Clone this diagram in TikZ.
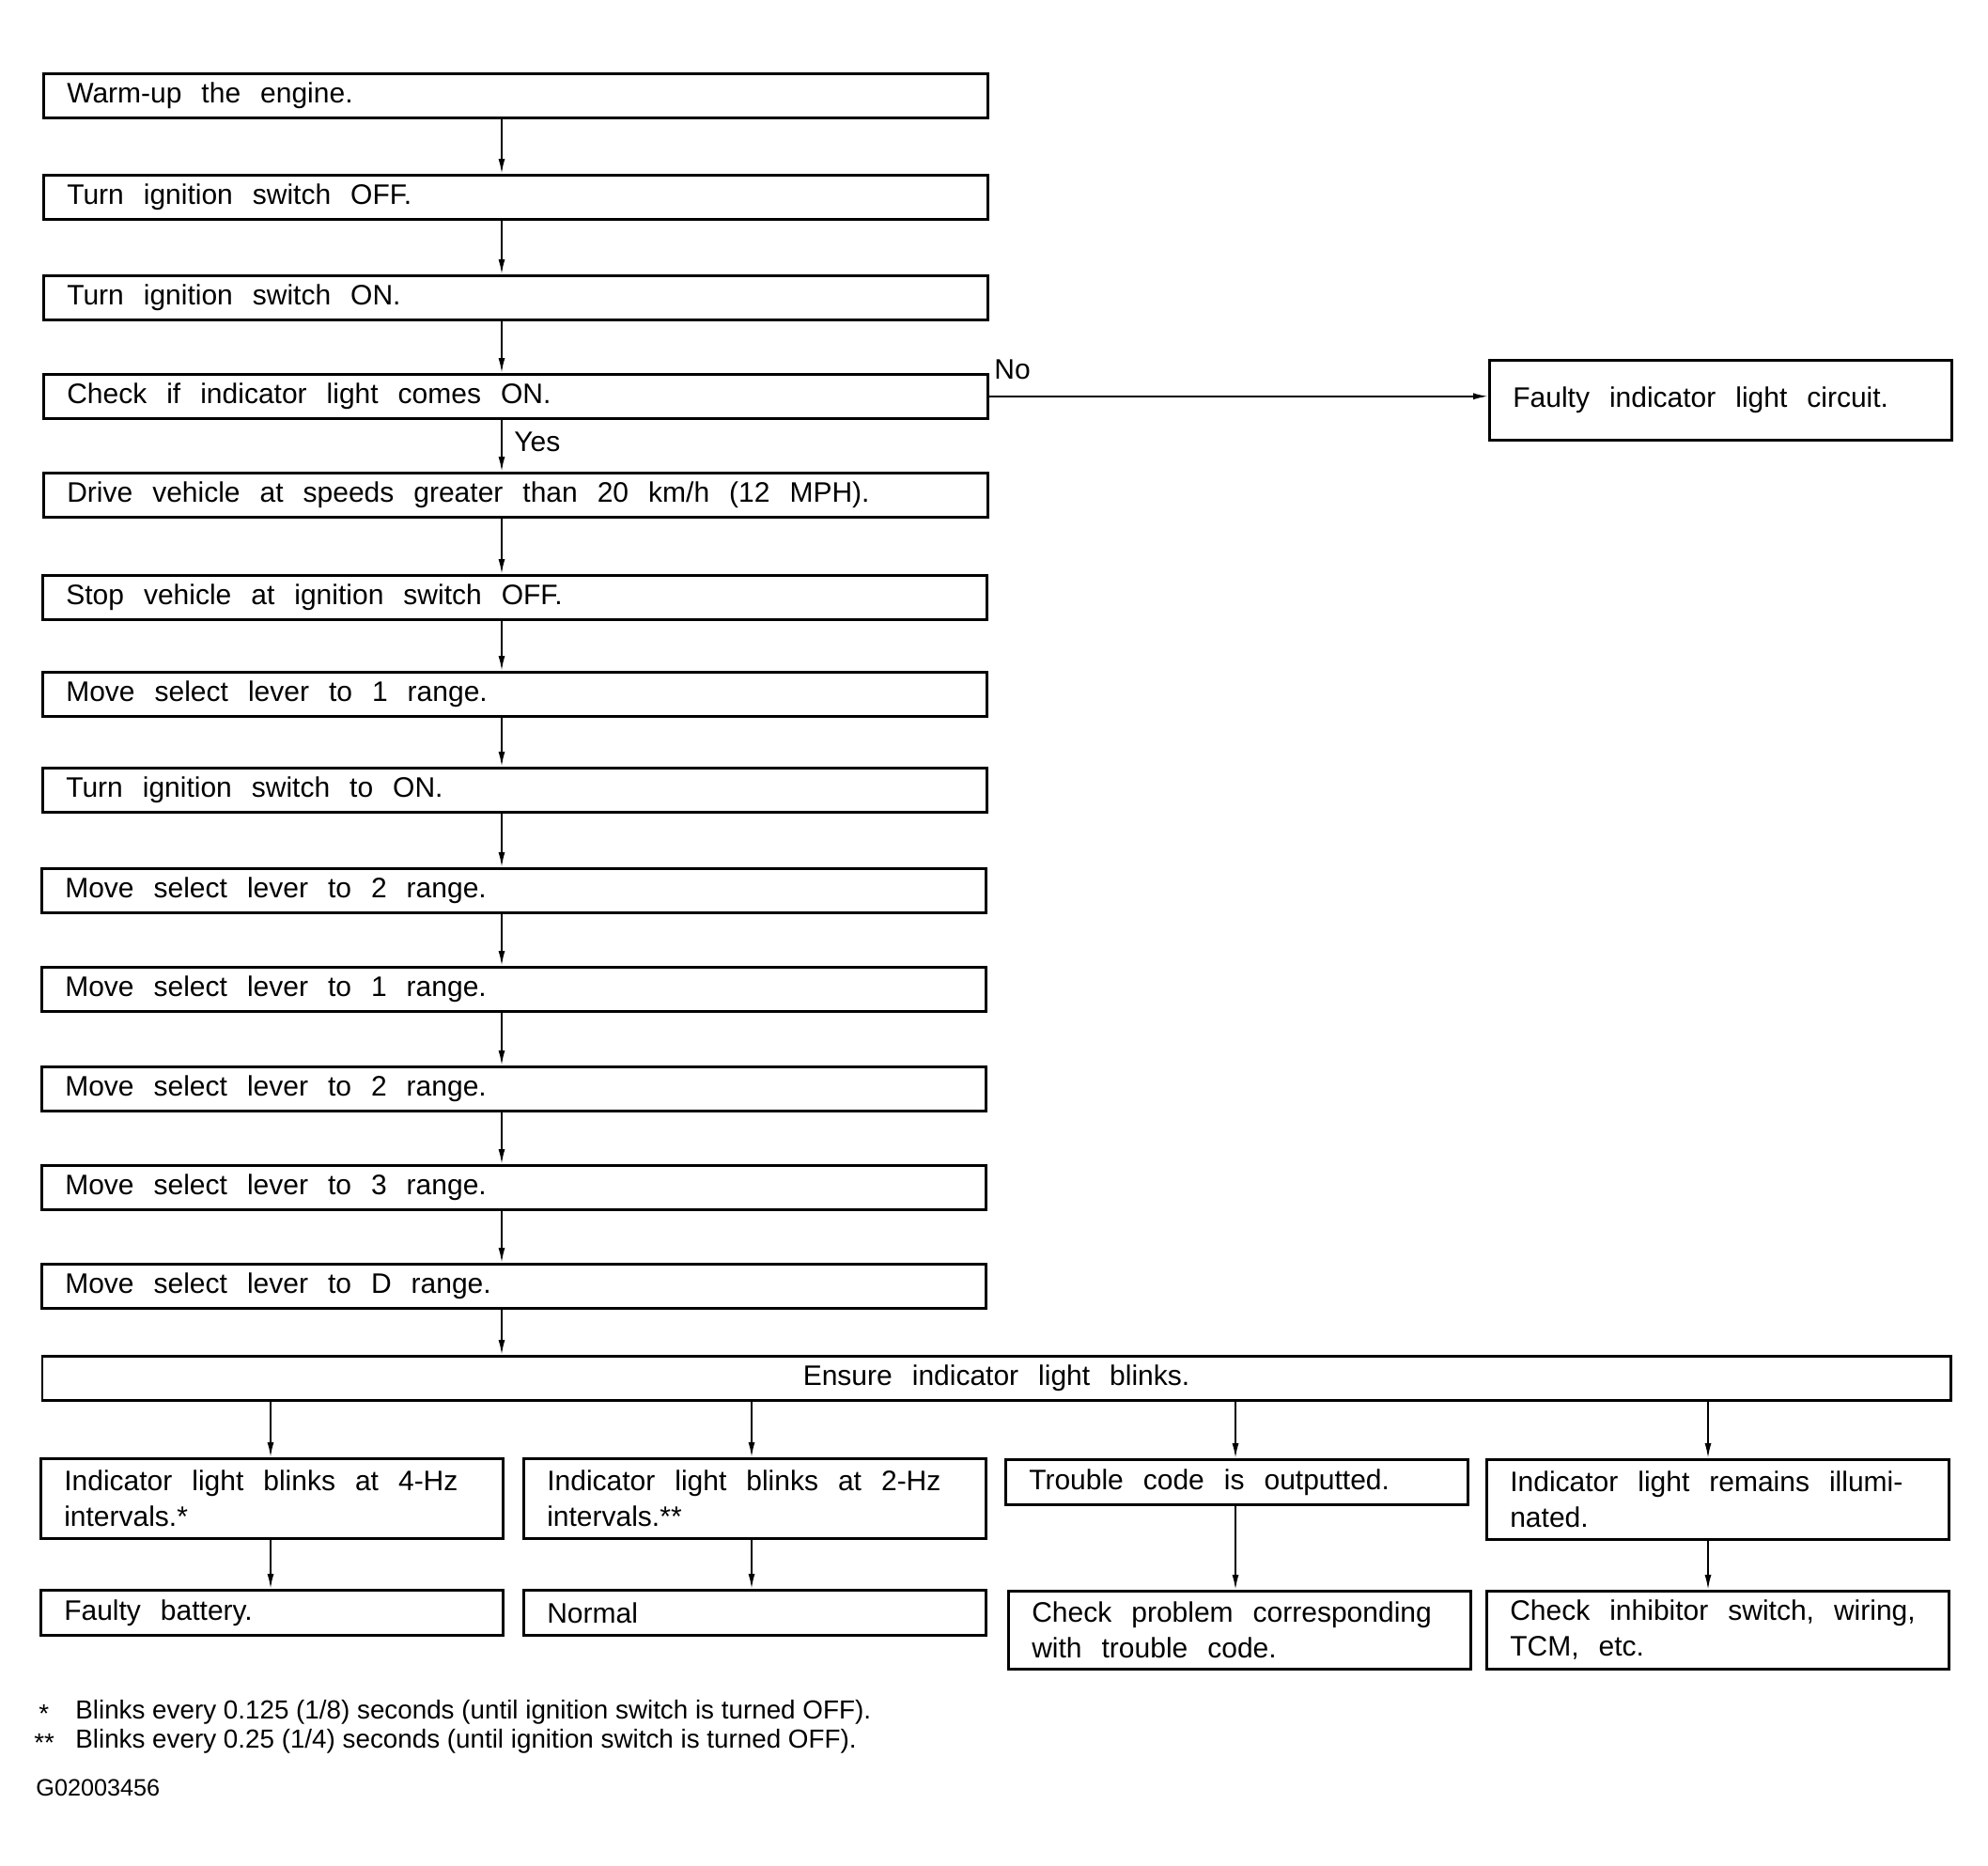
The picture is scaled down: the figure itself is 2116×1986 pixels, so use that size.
\documentclass[tikz,border=0pt]{standalone}
\usepackage{fontspec}
\setmainfont{Liberation Sans}
\newcommand\wsp{\spaceskip=10.5pt\relax\xspaceskip=10.5pt\relax}
\usetikzlibrary{arrows.meta}
\begin{document}
\begin{tikzpicture}[x=0.5pt,y=-0.5pt,
  box/.style={draw, line width=1.3pt, anchor=north west, inner ysep=0pt, inner xsep=12.5pt,
    font=\fontsize{15pt}{19pt}\selectfont, align=left, execute at begin node=\wsp},
  mainbox/.style={box, text width=477.5pt, minimum height=23.5pt},
  smallbox/.style={box, text width=221pt, minimum height=#1},
  arr/.style={line width=0.9pt, -{Latex[length=8pt,width=3.5pt]}},
  lbl/.style={font=\fontsize{15pt}{19pt}\selectfont, anchor=west, inner sep=0pt},
  note/.style={font=\fontsize{13.9pt}{16pt}\selectfont, anchor=west, inner sep=0pt}]
\useasboundingbox (0,0) rectangle (2116,1986);

\node[mainbox] (b1) at (45,77) {Warm-up the engine.};
\node[mainbox] (b2) at (45,185) {Turn ignition switch OFF.};
\node[mainbox] (b3) at (45,292) {Turn ignition switch ON.};
\node[mainbox] (b4) at (45,397) {Check if indicator light comes ON.};
\node[mainbox] (b5) at (45,502) {Drive vehicle at speeds greater than 20 km/h (12 MPH).};
\node[mainbox] (b6) at (44,611) {Stop vehicle at ignition switch OFF.};
\node[mainbox] (b7) at (44,714) {Move select lever to 1 range.};
\node[mainbox] (b8) at (44,816) {Turn ignition switch to ON.};
\node[mainbox] (b9) at (43,923) {Move select lever to 2 range.};
\node[mainbox] (b10) at (43,1028) {Move select lever to 1 range.};
\node[mainbox] (b11) at (43,1134) {Move select lever to 2 range.};
\node[mainbox] (b12) at (43,1239) {Move select lever to 3 range.};
\node[mainbox] (b13) at (43,1344) {Move select lever to D range.};

\node[draw, line width=1.3pt, anchor=north west, inner sep=0pt, minimum width=1015.75pt, minimum height=23.5pt,
  font=\fontsize{15pt}{19pt}\selectfont, execute at begin node=\wsp] (ens) at (43.5,1442) {Ensure indicator light blinks.};

\node[smallbox=42.5pt] (fic) at (1584,382) {Faulty indicator light circuit.};

\node[smallbox=42.5pt] (ra) at (42,1551) {Indicator light blinks at 4-Hz\\intervals.*};
\node[smallbox=42.5pt] (rb) at (556,1551) {Indicator light blinks at 2-Hz\\intervals.**};
\node[smallbox=24pt] (rc) at (1069,1552) {Trouble code is outputted.};
\node[smallbox=42.5pt] (rd) at (1581,1552) {Indicator light remains illumi-\\nated.};

\node[smallbox=24pt] (sa) at (42,1691) {Faulty battery.};
\node[smallbox=24pt] (sb) at (556,1691) {Normal};
\node[smallbox=41.5pt] (sc) at (1072,1692) {Check problem corresponding\\with trouble code.};
\node[smallbox=41.5pt] (sd) at (1581,1692) {Check inhibitor switch, wiring,\\TCM, etc.};

\coordinate (cx) at (534,0);
\coordinate (ca) at (288,0);
\coordinate (cb) at (800,0);
\coordinate (cc) at (1315,0);
\coordinate (cd) at (1818,0);

\foreach \a/\b in {b1/b2,b2/b3,b3/b4,b4/b5,b5/b6,b6/b7,b7/b8,b8/b9,b9/b10,b10/b11,b11/b12,b12/b13,b13/ens}
  \draw[arr] (\a.south -| cx) -- (\b.north -| cx);

\draw[arr] (b4.east) -- (b4.east -| fic.west);
\node[lbl] (no) at (1058,393) {No};
\node[lbl] (yes) at (547,470) {Yes};

\draw[arr] (ens.south -| ca) -- (ra.north -| ca);
\draw[arr] (ens.south -| cb) -- (rb.north -| cb);
\draw[arr] (ens.south -| cc) -- (rc.north -| cc);
\draw[arr] (ens.south -| cd) -- (rd.north -| cd);
\draw[arr] (ra.south -| ca) -- (sa.north -| ca);
\draw[arr] (rb.south -| cb) -- (sb.north -| cb);
\draw[arr] (rc.south -| cc) -- (sc.north -| cc);
\draw[arr] (rd.south -| cd) -- (sd.north -| cd);

\node[note] (s1) at (41,1824) {*};
\node[note] (n1) at (80,1822) {Blinks every 0.125 (1/8) seconds (until ignition switch is turned OFF).};
\node[note] (s2) at (36,1855) {**};
\node[note] (n2) at (80,1853) {Blinks every 0.25 (1/4) seconds (until ignition switch is turned OFF).};
\node[note, font=\fontsize{12.6pt}{15pt}\selectfont] (code) at (38,1903) {G02003456};
\end{tikzpicture}
\end{document}
